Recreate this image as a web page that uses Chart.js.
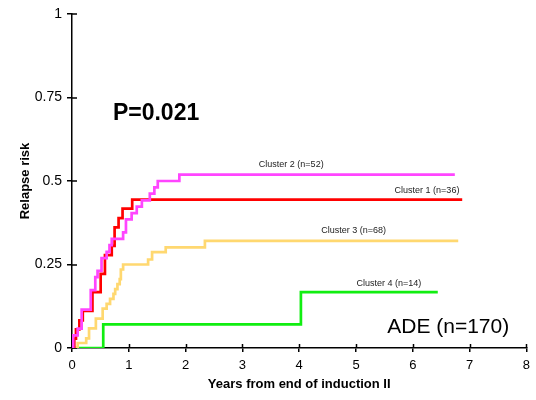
<!DOCTYPE html>
<html>
<head>
<meta charset="utf-8">
<script src="https://cdn.jsdelivr.net/npm/chart.js@4/dist/chart.umd.min.js"></script>
<style>
  html, body { margin: 0; padding: 0; background: #fff; }
  #wrap { width: 536px; height: 400px; }
</style>
</head>
<body>
<div id="wrap"><canvas id="c" width="536" height="400"></canvas></div>
<script>
// Cumulative incidence of relapse (step functions), years from end of induction II
const cluster1Times = [0, 0.04, 0.07, 0.13, 0.19, 0.36, 0.505, 0.58, 0.70, 0.75, 0.82, 0.89, 1.06];
const cluster1Risk  = [0, 0.028, 0.056, 0.083, 0.111, 0.167, 0.222, 0.278, 0.306, 0.361, 0.389, 0.417, 0.444];
const cluster1End = 6.87;

const cluster2Times = [0, 0.02, 0.10, 0.17, 0.33, 0.41, 0.45, 0.52, 0.61, 0.66, 0.70, 0.90, 0.95, 1.05, 1.14, 1.23, 1.37, 1.45, 1.51, 1.89];
const cluster2Risk  = [0, 0.038, 0.058, 0.115, 0.173, 0.212, 0.231, 0.269, 0.288, 0.308, 0.327, 0.346, 0.385, 0.404, 0.423, 0.442, 0.462, 0.481, 0.500, 0.519];
const cluster2End = 6.74;

const cluster3Times = [0, 0.10, 0.25, 0.30, 0.42, 0.54, 0.61, 0.67, 0.73, 0.76, 0.80, 0.84, 0.86, 0.90, 1.34, 1.41, 1.65, 2.34];
const cluster3Risk  = [0, 0.015, 0.029, 0.059, 0.088, 0.118, 0.132, 0.147, 0.162, 0.176, 0.191, 0.206, 0.235, 0.250, 0.265, 0.287, 0.301, 0.321];
const cluster3End = 6.80;

const cluster4Times = [0, 0.55, 4.03];
const cluster4Risk  = [0, 0.071, 0.167];
const cluster4End = 6.44;

const seriesNames = ['Cluster 1 (n=36)', 'Cluster 2 (n=52)', 'Cluster 3 (n=68)', 'Cluster 4 (n=14)'];
const xTicks = [0, 1, 2, 3, 4, 5, 6, 7, 8];
const yTicks = [0, 0.25, 0.5, 0.75, 1];
const pValueText = 'P=0.021';
const cohortText = 'ADE (n=170)';

function stepPoints(times, risk, end) {
  const pts = times.map((t, i) => ({ x: t, y: risk[i] }));
  pts.push({ x: end, y: risk[risk.length - 1] });
  return pts;
}

const FONT = "'Liberation Sans', Arial, Helvetica, sans-serif";

// Text annotations placed in data coordinates
const annotations = [
  { text: seriesNames[1], x: 3.86, y: 0.543, align: 'center', font: '9px ' + FONT, color: '#222' },
  { text: seriesNames[0], x: 6.25, y: 0.463, align: 'center', font: '9px ' + FONT, color: '#222' },
  { text: seriesNames[2], x: 4.96, y: 0.343, align: 'center', font: '9px ' + FONT, color: '#222' },
  { text: seriesNames[3], x: 5.58, y: 0.186, align: 'center', font: '9px ' + FONT, color: '#222' },
  { text: pValueText, x: 0.72, y: 0.683, align: 'left', font: 'bold 23px ' + FONT, color: '#000' },
  { text: cohortText, x: 5.55, y: 0.045, align: 'left', font: '21px ' + FONT, color: '#000' }
];

const annotatePlugin = {
  id: 'annotate',
  beforeDatasetsDraw(chart) {
    // inner half of the tick marks (ticks cross the axis lines)
    const ctx = chart.ctx;
    const xs = chart.scales.x, ys = chart.scales.y;
    ctx.save();
    ctx.strokeStyle = '#000';
    ctx.lineWidth = 1.5;
    ctx.beginPath();
    xTicks.forEach(v => {
      const px = Math.round(xs.getPixelForValue(v)) + 0.5;
      ctx.moveTo(px, ys.bottom);
      ctx.lineTo(px, ys.bottom - 4);
    });
    yTicks.forEach(v => {
      const py = Math.round(ys.getPixelForValue(v));
      ctx.moveTo(xs.left, py);
      ctx.lineTo(xs.left + 5, py);
    });
    ctx.stroke();
    ctx.restore();
  },
  afterDatasetsDraw(chart) {
    const ctx = chart.ctx;
    const xs = chart.scales.x, ys = chart.scales.y;
    ctx.save();
    ctx.textBaseline = 'alphabetic';
    annotations.forEach(a => {
      ctx.font = a.font;
      ctx.fillStyle = a.color;
      ctx.textAlign = a.align;
      ctx.fillText(a.text, xs.getPixelForValue(a.x), ys.getPixelForValue(a.y));
    });
    ctx.restore();
  }
};

const lineStyle = { pointRadius: 0, pointHoverRadius: 0, borderWidth: 2.7, stepped: 'before', tension: 0, fill: false };

new Chart(document.getElementById('c'), {
  type: 'line',
  data: {
    datasets: [
      Object.assign({ label: seriesNames[1], data: stepPoints(cluster2Times, cluster2Risk, cluster2End), borderColor: '#ff45ff' }, lineStyle),
      Object.assign({ label: seriesNames[0], data: stepPoints(cluster1Times, cluster1Risk, cluster1End), borderColor: '#ff0000' }, lineStyle),
      Object.assign({ label: seriesNames[2], data: stepPoints(cluster3Times, cluster3Risk, cluster3End), borderColor: '#ffd870' }, lineStyle),
      Object.assign({ label: seriesNames[3], data: stepPoints(cluster4Times, cluster4Risk, cluster4End), borderColor: '#11ee11' }, lineStyle)
    ]
  },
  options: {
    responsive: false,
    animation: false,
    events: [],
    layout: { padding: { top: 14, right: 9, left: 0, bottom: 0 } },
    plugins: { legend: { display: false }, tooltip: { enabled: false } },
    scales: {
      x: {
        type: 'linear',
        min: 0, max: 8,
        afterFit(scale) { scale.height = 52; },
        afterBuildTicks(scale) { scale.ticks = xTicks.map(v => ({ value: v })); },
        border: { display: true, color: '#000', width: 1.5 },
        grid: { drawOnChartArea: false, drawTicks: true, tickLength: 4, color: '#000', lineWidth: 1.5 },
        ticks: { color: '#000', font: { family: FONT, size: 13 }, padding: 6, maxRotation: 0, autoSkip: false },
        title: { display: true, text: 'Years from end of induction II', color: '#000',
                 font: { family: FONT, size: 13, weight: 'bold' }, padding: { top: 0, bottom: 8 } }
      },
      y: {
        type: 'linear',
        min: 0, max: 1,
        afterFit(scale) { scale.width = 72; },
        afterBuildTicks(scale) { scale.ticks = yTicks.map(v => ({ value: v })); },
        border: { display: true, color: '#000', width: 1.5 },
        grid: { drawOnChartArea: false, drawTicks: true, tickLength: 5, color: '#000', lineWidth: 1.5 },
        ticks: { color: '#000', font: { family: FONT, size: 14 }, padding: 5,
                 callback: v => String(v) },
        title: { display: true, text: 'Relapse risk', color: '#000',
                 font: { family: FONT, size: 13, weight: 'bold' }, padding: { top: 18, bottom: 0 } }
      }
    }
  },
  plugins: [annotatePlugin]
});
</script>
</body>
</html>
